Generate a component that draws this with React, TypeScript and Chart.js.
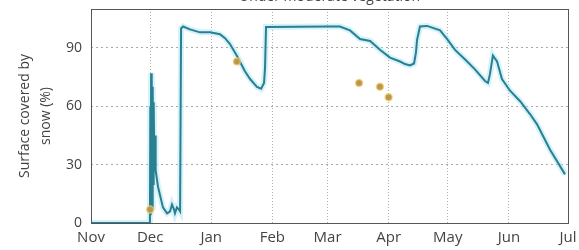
import React, { useEffect, useRef } from "react";
import { Chart, registerables } from "chart.js";

Chart.register(...registerables);

const chartTitle = "Under moderate vegetation";
const yTitle = ["Surface covered by", "snow (%)"];
const monthLabels = ["Nov", "Dec", "Jan", "Feb", "Mar", "Apr", "May", "Jun", "Jul"];
const monthStarts = [0, 30, 61, 92, 120, 151, 181, 212, 242];
const yTicks = [0, 30, 60, 90];

// days since 1 Nov
const lineDays = [
  0, 29.9, 30.1, 30.3, 30.5, 30.7, 30.9, 31.1, 31.3, 31.5, 31.8, 32.1, 32.5, 32.8,
  34, 36.5, 38.6, 40.1, 41.1, 42.1, 42.6, 43.6, 44.6, 45.2, 45.7, 46.7, 50.2, 55.3,
  60.4, 65.4, 68, 70.5, 74, 78.1, 80.7, 84.2, 86.3, 87.8, 88.3, 88.8, 119.7, 126.3,
  131.4, 136.5, 141.6, 146.6, 151.7, 156.8, 159.3, 161.8, 163.9, 164.9, 165.4, 166.9,
  170.5, 177.1, 180.6, 184.7, 189.8, 194.8, 199.9, 201.4, 202.4, 203.9, 206, 208.5,
  212.6, 217.7, 222.7, 226.3, 232.9, 240.5,
];
const lineValues = [
  0, 0, 60, 4, 77, 15, 74, 8, 70, 20, 62, 35, 45, 27,
  18.6, 8, 5, 6, 9.5, 7, 5, 8, 7, 6, 100, 101, 99.5, 98,
  98, 97, 95, 92, 86, 78, 74, 70, 69, 72, 80, 100.8, 101, 101,
  99, 94.6, 93.6, 89, 85, 83, 81.7, 81, 82, 88, 94, 101,
  101.3, 99, 94.6, 89, 84, 79, 73, 72, 76.5, 86, 83, 74,
  68, 62.6, 56, 50.7, 37.7, 25,
];

const obsDays = [30, 74, 136, 146.6, 151];
const obsValues = [7, 83, 72, 70, 64.6];

export default function App() {
  const canvasRef = useRef<HTMLCanvasElement | null>(null);

  useEffect(() => {
    if (!canvasRef.current) return;
    const linePts = lineDays.map((d, i) => ({ x: d, y: lineValues[i] }));
    const obsPts = obsDays.map((d, i) => ({ x: d, y: obsValues[i] }));

    const boxPlugin = {
      id: "boxAndTitle",
      afterDraw(chart: any) {
        const { ctx, chartArea } = chart;
        ctx.save();
        ctx.strokeStyle = "#555";
        ctx.lineWidth = 1;
        ctx.setLineDash([]);
        ctx.strokeRect(
          Math.round(chartArea.left) + 0.5,
          Math.round(chartArea.top) + 0.5,
          Math.round(chartArea.right - chartArea.left),
          Math.round(chartArea.bottom - chartArea.top)
        );
        ctx.fillStyle = "#444";
        ctx.font = "14px 'Open Sans'";
        ctx.textAlign = "center";
        ctx.textBaseline = "alphabetic";
        ctx.fillText(chartTitle, (chartArea.left + chartArea.right) / 2, 0.5);
        ctx.restore();
      },
    };

    const chart = new Chart(canvasRef.current, {
      type: "line",
      data: {
        datasets: [
          {
            type: "scatter",
            data: obsPts,
            pointRadius: 3.5,
            pointBackgroundColor: "#b8974e",
            pointBorderColor: "rgba(245,205,110,0.7)",
            pointBorderWidth: 1.5,
            order: 0,
          } as any,
          {
            data: linePts,
            borderColor: "#2a7f90",
            borderWidth: 2,
            pointRadius: 0,
            tension: 0,
            order: 1,
          },
          {
            data: linePts,
            borderColor: "rgba(170,230,245,0.5)",
            borderWidth: 6,
            pointRadius: 0,
            tension: 0,
            order: 2,
          },
        ],
      },
      options: {
        animation: false,
        responsive: false,
        events: [],
        layout: { padding: { top: 9, right: 11, left: 0, bottom: 0 } },
        plugins: { legend: { display: false }, tooltip: { enabled: false } },
        scales: {
          x: {
            type: "linear",
            min: 0,
            max: 242,
            afterBuildTicks: (scale: any) => {
              scale.ticks = monthStarts.map((v) => ({ value: v }));
            },
            afterFit: (scale: any) => {
              scale.height = 27;
              scale.paddingLeft = 0;
              scale.paddingRight = 0;
            },
            ticks: {
              autoSkip: false,
              maxRotation: 0,
              padding: 6,
              color: "#444",
              font: { family: "'Open Sans'", size: 15 },
              callback: (v: any) => {
                const i = monthStarts.indexOf(Number(v));
                return i >= 0 ? monthLabels[i] : "";
              },
            },
            grid: { color: "#b0b0b0", drawTicks: false, lineWidth: 1 },
            border: { display: false, dash: [1, 2] },
          },
          y: {
            min: 0,
            max: 110,
            afterBuildTicks: (scale: any) => {
              scale.ticks = yTicks.map((v) => ({ value: v }));
            },
            afterFit: (scale: any) => {
              scale.width = 91;
              scale.paddingTop = 0;
              scale.paddingBottom = 0;
            },
            ticks: {
              padding: 9,
              color: "#444",
              font: { family: "'Open Sans'", size: 14 },
            },
            grid: { color: "#a8a8a8", drawTicks: false, lineWidth: 1 },
            border: { display: false, dash: [2, 3] },
            title: {
              display: true,
              text: yTitle,
              color: "#444",
              font: { family: "'Open Sans'", size: 14, lineHeight: 1.5 },
              padding: { top: 14.5, bottom: 0 },
            },
          },
        },
      },
      plugins: [boxPlugin],
    } as any);

    return () => chart.destroy();
  }, []);

  return (
    <div style={{ position: "absolute", left: 0, top: 0, width: 579, height: 250 }}>
      <canvas ref={canvasRef} width={579} height={250} />
    </div>
  );
}
